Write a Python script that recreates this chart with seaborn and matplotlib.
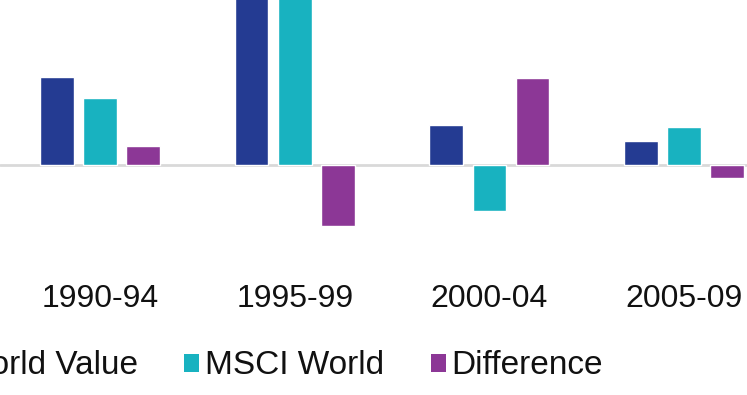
import matplotlib
matplotlib.use("Agg")
import matplotlib.pyplot as plt
from matplotlib.patches import Patch
import seaborn as sns
import pandas as pd

periods = ["1990-94", "1995-99", "2000-04", "2005-09"]
series = ["MSCI World Value", "MSCI World", "Difference"]
world_value = [25.1, 128.0, 11.4, 6.9]
world = [19.1, 145.0, -13.1, 10.9]
difference = [5.4, -17.4, 24.9, -3.7]
colors = ["#243B92", "#18B2C0", "#8C3796"]

df = pd.DataFrame({
    "period": periods * 3,
    "series": [series[0]] * 4 + [series[1]] * 4 + [series[2]] * 4,
    "value": world_value + world + difference,
})

sns.set_theme(style="white")
plt.rcParams["font.family"] = ["Liberation Sans", "DejaVu Sans"]

W, H = 747, 395
fig = plt.figure(figsize=(W / 100, H / 100), dpi=100)
ax_bottom_px = 275
ax = fig.add_axes([0, (H - ax_bottom_px) / H, 1, ax_bottom_px / H])

sns.barplot(data=df, x="period", y="value", hue="series", hue_order=series,
            order=periods, palette=colors, width=0.665, gap=0.22,
            saturation=1, legend=False, ax=ax, errorbar=None)

px_per_unit_y = 3.5
zero_px = 165
ax.set_ylim(-(ax_bottom_px - zero_px) / px_per_unit_y, zero_px / px_per_unit_y)
step = 194.7
xmin = -100 / step
ax.set_xlim(xmin, xmin + W / step)
ax.axhline(0, color="#D9D9D9", lw=2, zorder=0)

for s in ax.spines.values():
    s.set_visible(False)
ax.set_yticks([])
ax.set_xlabel("")
ax.set_ylabel("")
ax.tick_params(axis="x", length=0, pad=6.5, labelsize=23, labelcolor="#111111")

handles = [Patch(facecolor=c, edgecolor="none", label=l) for c, l in zip(colors, series)]
fig.legend(handles=handles, loc="center right", bbox_to_anchor=(603 / W, 1 - 366 / H),
           ncol=3, frameon=False, fontsize=24, handlelength=0.45, handleheight=0.45,
           handletextpad=0.17, columnspacing=1.4, borderpad=0, borderaxespad=0,
           labelcolor="#111111")

fig.savefig("out.png", dpi=100, facecolor="white")
